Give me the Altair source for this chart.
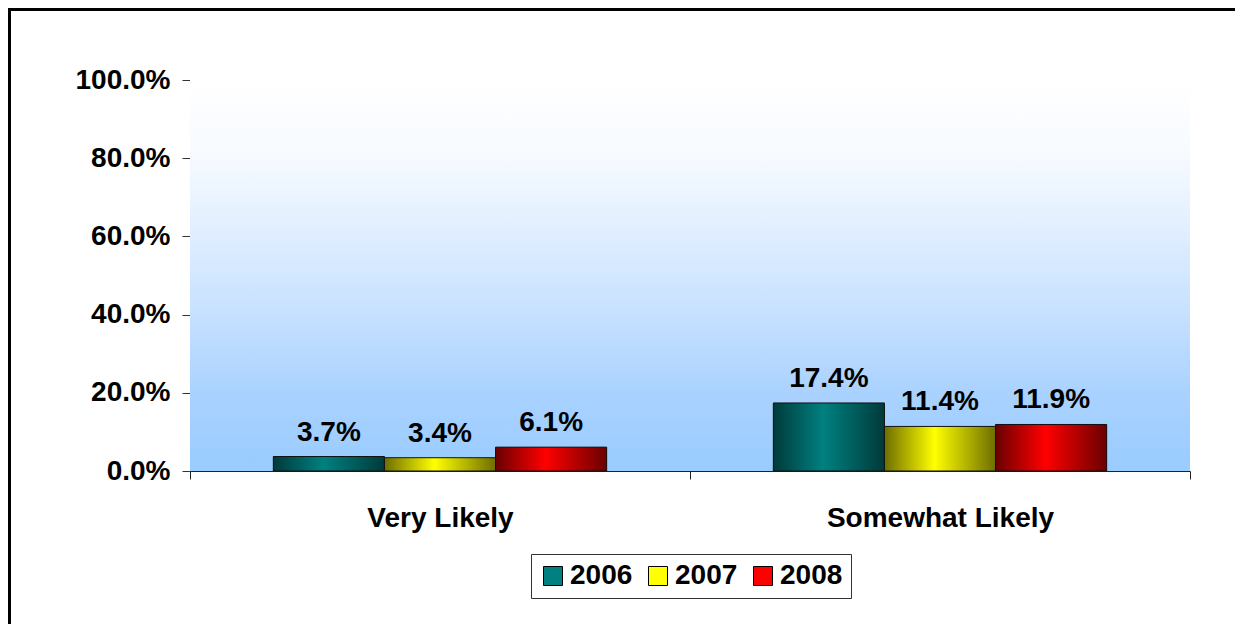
import altair as alt
import pandas as pd

categories = ["Very Likely", "Somewhat Likely"]
years = ["2006", "2007", "2008"]
values_2006 = [0.037, 0.174]
values_2007 = [0.034, 0.114]
values_2008 = [0.061, 0.119]
y_ticks = [0.0, 0.2, 0.4, 0.6, 0.8, 1.0]
bright = ["#008080", "#FFFF00", "#FF0000"]
dark = ["#003A3A", "#6E6E00", "#6A0000"]

rows = []
for yr, vals in zip(years, [values_2006, values_2007, values_2008]):
    for c, v in zip(categories, vals):
        rows.append({"category": c, "year": yr, "value": v})
df = pd.DataFrame(rows)

W, H = 1000, 391
FONT = "Liberation Sans"
FS = 28

x_enc = alt.X(
    "category:N",
    sort=categories,
    scale=alt.Scale(paddingInner=0, paddingOuter=0),
    axis=alt.Axis(
        title=None, labelAngle=0, tickBand="extent", tickSize=8, labelPadding=25,
        labelFontSize=FS, labelFont=FONT, labelFontWeight="bold", labelColor="black",
        labelLimit=0, domainColor="#222222", tickColor="#222222", grid=False,
    ),
)
xo_enc = alt.XOffset(
    "year:N", sort=years,
    scale=alt.Scale(domain=years, paddingInner=0, paddingOuter=0.75),
)
y_enc = alt.Y(
    "value:Q",
    scale=alt.Scale(domain=[0, 1], nice=False),
    axis=alt.Axis(
        title=None, values=y_ticks, format=".1%", tickSize=8, labelPadding=12,
        labelFontSize=FS, labelFont=FONT, labelFontWeight="bold", labelColor="black",
        domainColor="#333333", tickColor="#333333", grid=False,
    ),
)

bg = alt.Chart(pd.DataFrame({"a": [0]})).mark_rect(
    fill={
        "gradient": "linear", "x1": 0, "y1": 0, "x2": 0, "y2": 1,
        "stops": [
            {"offset": 0, "color": "#FFFFFF"},
            {"offset": 0.2, "color": "#F6FAFF"},
            {"offset": 0.55, "color": "#CDE4FF"},
            {"offset": 0.8, "color": "#AAD2FF"},
            {"offset": 1, "color": "#99CCFF"},
        ],
    }
).encode(x=alt.value(0), x2=alt.value(W), y=alt.value(0), y2=alt.value(H))

legend_bars = alt.Chart(df).mark_bar().encode(
    x=x_enc, xOffset=xo_enc, y=y_enc,
    color=alt.Color(
        "year:N", sort=years,
        scale=alt.Scale(domain=years, range=bright),
        legend=alt.Legend(
            title=None, orient="none", legendX=341, legendY=474, direction="horizontal",
            columns=3, padding=8, strokeColor="#333333", fillColor="white",
            symbolType="square", symbolSize=361, symbolStrokeColor="black",
            symbolStrokeWidth=1, labelFontSize=FS, labelFont=FONT,
            labelFontWeight="bold", labelColor="black", labelOffset=3, columnPadding=11,
        ),
    ),
)

layers = [bg, legend_bars]
for yr, b, d in zip(years, bright, dark):
    grad = {
        "gradient": "linear", "x1": 0, "y1": 0, "x2": 1, "y2": 0,
        "stops": [
            {"offset": 0, "color": d},
            {"offset": 0.45, "color": b},
            {"offset": 1, "color": d},
        ],
    }
    layers.append(
        alt.Chart(df).transform_filter(alt.datum.year == yr)
        .mark_bar(fill=grad, stroke="#111111", strokeWidth=1)
        .encode(x=x_enc, xOffset=xo_enc, y=y_enc)
    )

labels = alt.Chart(df).mark_text(
    dy=-16, baseline="alphabetic", fontSize=FS, font=FONT, fontWeight="bold", color="black"
).encode(x=x_enc, xOffset=xo_enc, y=y_enc, text=alt.Text("value:Q", format=".1%"))

one = pd.DataFrame({"a": [0]})
frame_left = alt.Chart(one).mark_rule(stroke="black", strokeWidth=4).encode(
    x=alt.value(-181), y=alt.value(-73), y2=alt.value(H + 200)
)
frame_top = alt.Chart(one).mark_rule(stroke="black", strokeWidth=4).encode(
    x=alt.value(-183), x2=alt.value(W + 100), y=alt.value(-71)
)

chart = alt.layer(*layers, labels, frame_left, frame_top).properties(
    width=W, height=H,
    autosize=alt.AutoSizeParams(type="none"),
    padding={"left": 182, "top": 72, "right": 45, "bottom": 153},
).configure_view(stroke=None)

chart.save("out.html", embed_options={"renderer": "svg", "actions": False})
